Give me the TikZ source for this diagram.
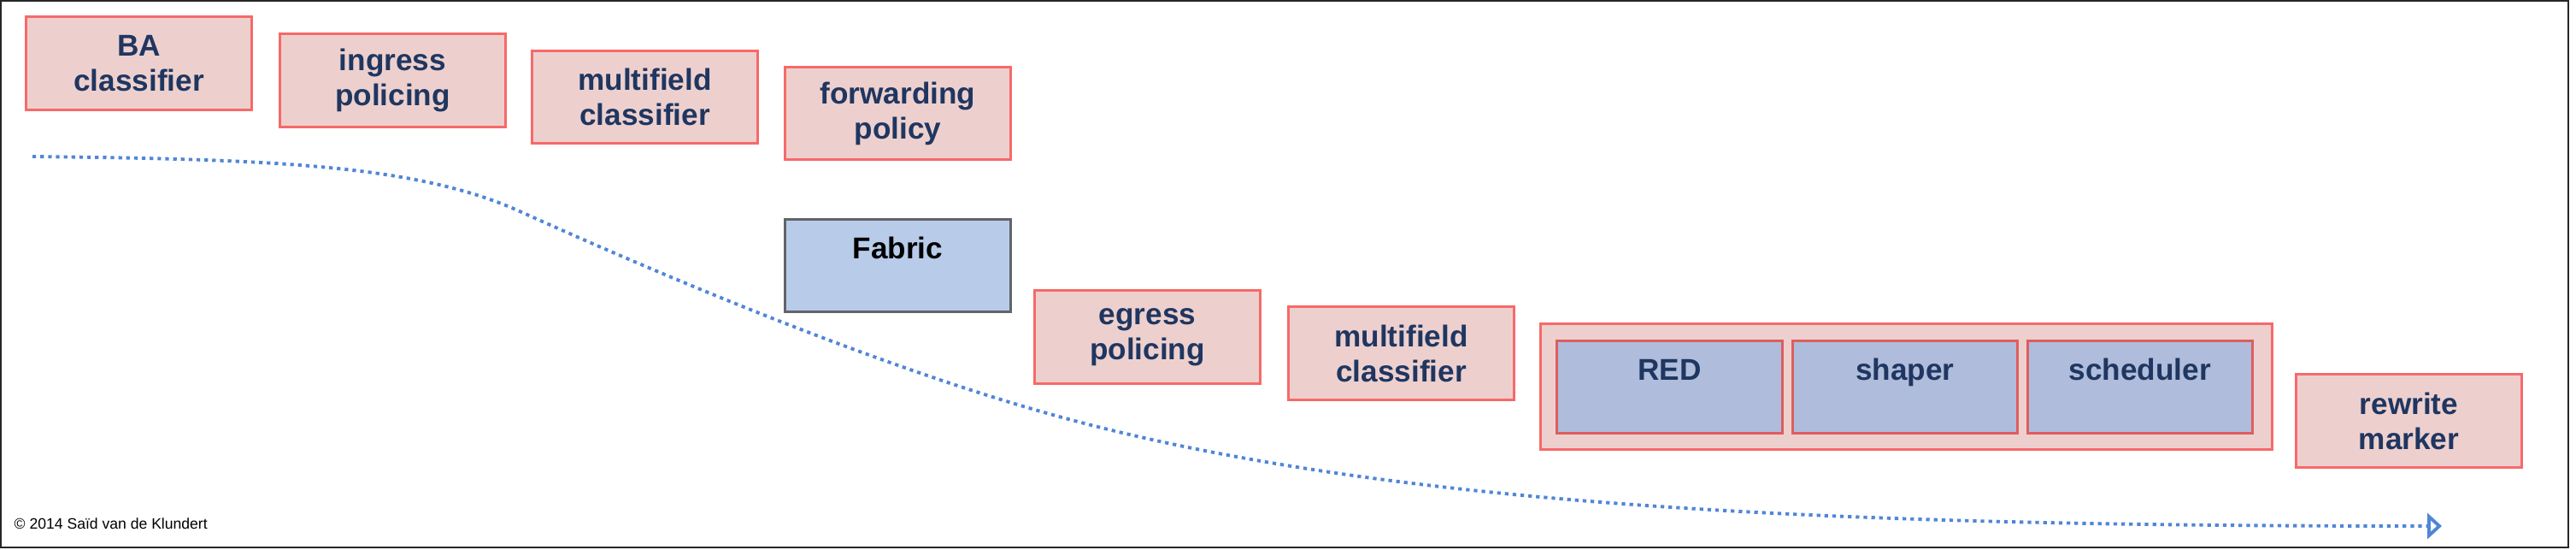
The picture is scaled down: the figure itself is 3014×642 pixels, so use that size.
\documentclass[tikz,border=0pt]{standalone}
\usepackage{fontspec}
\setmainfont{Liberation Sans}
\usepackage{tikz}
\usetikzlibrary{positioning,arrows.meta}
\usepackage{xcolor}

\definecolor{boxpink}{RGB}{237,208,206}
\definecolor{boxred}{RGB}{247,105,105}
\definecolor{labelnavy}{RGB}{31,54,96}
\definecolor{fabricblue}{RGB}{184,204,234}
\definecolor{fabricgray}{RGB}{98,100,104}
\definecolor{queueblue}{RGB}{175,188,219}
\definecolor{flowblue}{RGB}{80,134,214}

\tikzset{
  qosbox/.style={draw=boxred, fill=boxpink, line width=0.85pt, minimum width=2.63cm, minimum height=1.08cm,
    align=center, inner sep=0pt, text=labelnavy, font=\fontsize{10}{11.7}\selectfont\bfseries},
  fabricbox/.style={qosbox, draw=fabricgray, fill=fabricblue, text=black},
  queuebox/.style={qosbox, draw=boxred!90!black, fill=queueblue},
  flow/.style={draw=flowblue, line width=1.1pt, dash pattern=on 1.2pt off 1.4pt,
    -{Triangle[open,length=0.17cm,width=0.3cm]}}
}

\begin{document}
\begin{tikzpicture}[x=0.01cm, y=-0.01cm]
        \useasboundingbox (0,0) rectangle (3014,642);
        \draw [line width=0.6pt, black!85] (1,1) rectangle (3005,640);

        % ingress side
        \node[qosbox] (ba) at (162.5,74) {BA\\classifier};
        \node[qosbox] (ingress) at (459.5,94) {ingress\\policing};
        \node[qosbox] (mfin) at (754.5,113.5) {multifield\\classifier};
        \node[qosbox] (fwd) at (1050.5,132.5) {forwarding\\policy};
        \node[fabricbox] (fabric) at (1050.5,310.5) {Fabric\\\mbox{}};

        % egress side
        \node[qosbox] (egress) at (1342.5,394) {egress\\policing};
        \node[qosbox] (mfout) at (1639.5,413) {multifield\\classifier};
        \node[qosbox, minimum width=8.55cm, minimum height=1.46cm] (queue) at (2230.5,452) {};
        \node[queuebox] (red) at (1953.5,452.5) {RED\\\mbox{}};
        \node[queuebox, right=0.09cm of red] (shaper) {shaper\\\mbox{}};
        \node[queuebox, right=0.09cm of shaper] (sched) {scheduler\\\mbox{}};
        \node[qosbox] (rewrite) at (2818.5,492) {rewrite\\marker};

        \coordinate (flowstart) at (38,183);
        \coordinate (flowend) at (2857,615);
        \draw [flow] (flowstart) .. controls (320,186) and (488,193) .. (608,247)
            .. controls (808,337) and (1050,436) .. (1250,490)
            .. controls (1650,598) and (2200,615) .. (flowend);

        \node[anchor=base west, inner sep=0pt, font=\fontsize{5}{6}\selectfont] (copy) at (16,618) {© 2014 Saïd van de Klundert};
\end{tikzpicture}
\end{document}
